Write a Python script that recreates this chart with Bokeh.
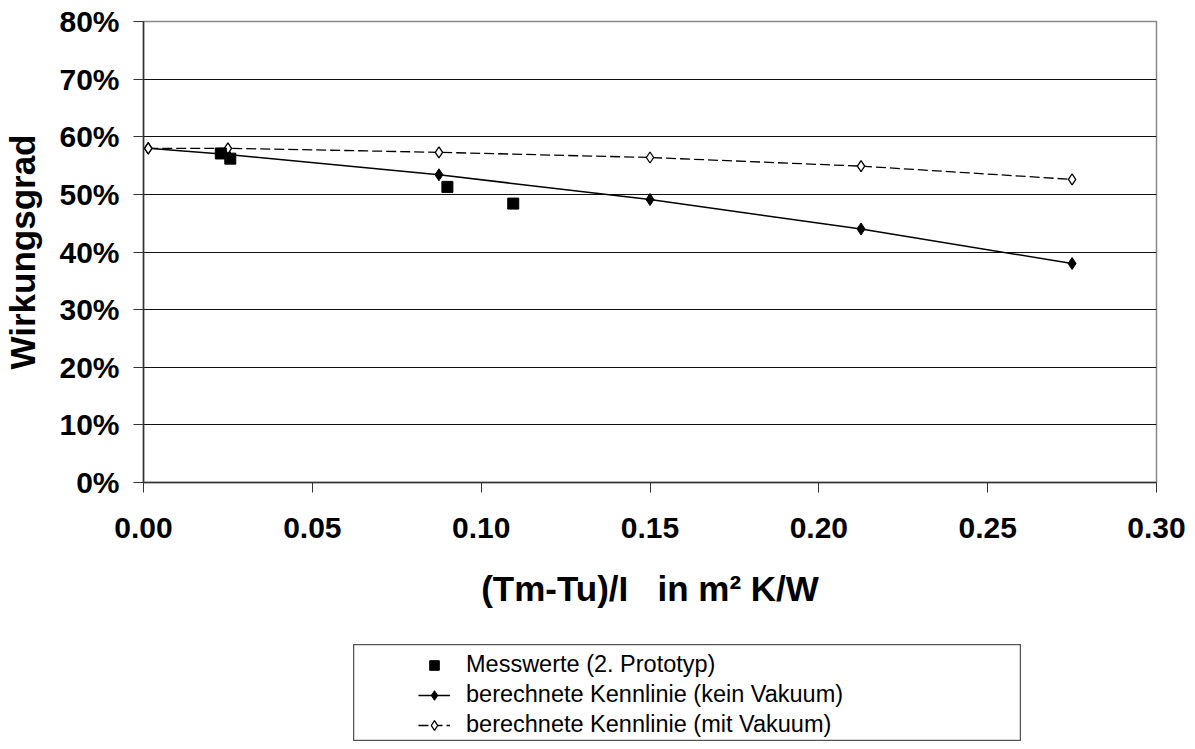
from bokeh.plotting import figure
from bokeh.models import NumeralTickFormatter, FixedTicker, Range1d, Legend, LegendItem, Spacer
from bokeh.layouts import column, row
from bokeh.embed import file_html
from bokeh.resources import INLINE

# ---- data ----
x_calc = [0.0014, 0.025, 0.0875, 0.15, 0.2125, 0.275]
eff_no_vacuum = [0.580, 0.569, 0.534, 0.491, 0.440, 0.380]
eff_vacuum = [0.580, 0.580, 0.573, 0.564, 0.549, 0.526]
x_meas = [0.0229, 0.0257, 0.0900, 0.1095]
eff_meas = [0.571, 0.562, 0.513, 0.484]

x_ticks = [0.0, 0.05, 0.10, 0.15, 0.20, 0.25, 0.30]
y_ticks = [0.0, 0.1, 0.2, 0.3, 0.4, 0.5, 0.6, 0.7, 0.8]

label_meas = "Messwerte (2. Prototyp)"
label_no_vac = "berechnete Kennlinie (kein Vakuum)"
label_vac = "berechnete Kennlinie (mit Vakuum)"
x_title = "(Tm-Tu)/I\u00a0\u00a0\u00a0in m\u00b2 K/W"
y_title = "Wirkungsgrad"

FONT = "Liberation Sans"


def add_series(fig):
    """Draw the three series on a figure, return the renderers."""
    l1 = fig.line(x_calc, eff_no_vacuum, line_color="black", line_width=1.5)
    s1 = fig.scatter(x_calc, eff_no_vacuum, marker="diamond", size=12,
                     fill_color="black", line_color="black")
    l2 = fig.line(x_calc, eff_vacuum, line_color="black", line_width=1.3, line_dash="10 4")
    s2 = fig.scatter(x_calc, eff_vacuum, marker="diamond", size=11,
                     fill_color="white", line_color="black", line_width=1.3)
    sm = fig.scatter(x_meas, eff_meas, marker="square", size=11,
                     fill_color="black", line_color="black")
    return l1, s1, l2, s2, sm


p = figure(width=1187, height=644, output_backend="svg", toolbar_location=None,
           x_range=Range1d(0, 0.30), y_range=Range1d(0, 0.80),
           min_border_left=142, min_border_right=31, min_border_top=21,
           min_border_bottom=162)
p.outline_line_color = "#888888"
p.outline_line_width = 1.5
p.background_fill_color = "white"
p.border_fill_color = "white"

p.xgrid.visible = False
p.ygrid.ticker = FixedTicker(ticks=y_ticks)
p.ygrid.grid_line_color = "#111111"
p.ygrid.grid_line_width = 1

p.xaxis.ticker = FixedTicker(ticks=x_ticks)
p.yaxis.ticker = FixedTicker(ticks=y_ticks)
p.xaxis.formatter = NumeralTickFormatter(format="0.00")
p.yaxis.formatter = NumeralTickFormatter(format="0%")

for ax in (p.xaxis, p.yaxis):
    ax.major_label_text_font = FONT
    ax.major_label_text_font_style = "bold"
    ax.major_label_text_color = "black"
    ax.axis_label_text_font = FONT
    ax.axis_label_text_font_style = "bold"
    ax.axis_label_text_color = "black"
    ax.axis_line_color = "#333333"
    ax.axis_line_width = 1.5
    ax.major_tick_line_color = "#333333"
    ax.major_tick_in = 0
    ax.major_tick_out = 10
    ax.minor_tick_line_color = None

p.xaxis.axis_label = x_title
p.yaxis.axis_label = y_title
p.xaxis.major_label_text_font_size = "30px"
p.yaxis.major_label_text_font_size = "30px"
p.xaxis.axis_label_text_font_size = "35px"
p.yaxis.axis_label_text_font_size = "35px"
p.xaxis.major_label_standoff = 25
p.yaxis.major_label_standoff = 14
p.xaxis.axis_label_standoff = 28
p.yaxis.axis_label_standoff = 14

add_series(p)

# ---- legend panel (series drawn outside its visible range, only the legend shows) ----
lf = figure(width=668, height=97, output_backend="svg", toolbar_location=None,
            x_range=Range1d(10, 11), y_range=Range1d(10, 11),
            x_axis_type=None, y_axis_type=None,
            min_border_left=0, min_border_right=0, min_border_top=0, min_border_bottom=0)
lf.xgrid.visible = False
lf.ygrid.visible = False
lf.outline_line_color = "#555555"
lf.outline_line_width = 1.5

l1, s1, l2, s2, sm = add_series(lf)

legend = Legend(items=[
    LegendItem(label=label_meas, renderers=[sm]),
    LegendItem(label=label_no_vac, renderers=[l1, s1]),
    LegendItem(label=label_vac, renderers=[l2, s2]),
], location=(60, -2))
legend.border_line_alpha = 0
legend.background_fill_alpha = 0
legend.label_text_font = FONT
legend.label_text_font_size = "23.5px"
legend.label_text_color = "black"
legend.glyph_width = 32
legend.glyph_height = 24
legend.label_height = 24
legend.label_standoff = 16
legend.spacing = 3
legend.padding = 5
legend.margin = 0
lf.add_layout(legend, "center")

layout = column(p, row(Spacer(width=353, height=97), lf))

open("out.html", "w").write(file_html(layout, INLINE))
